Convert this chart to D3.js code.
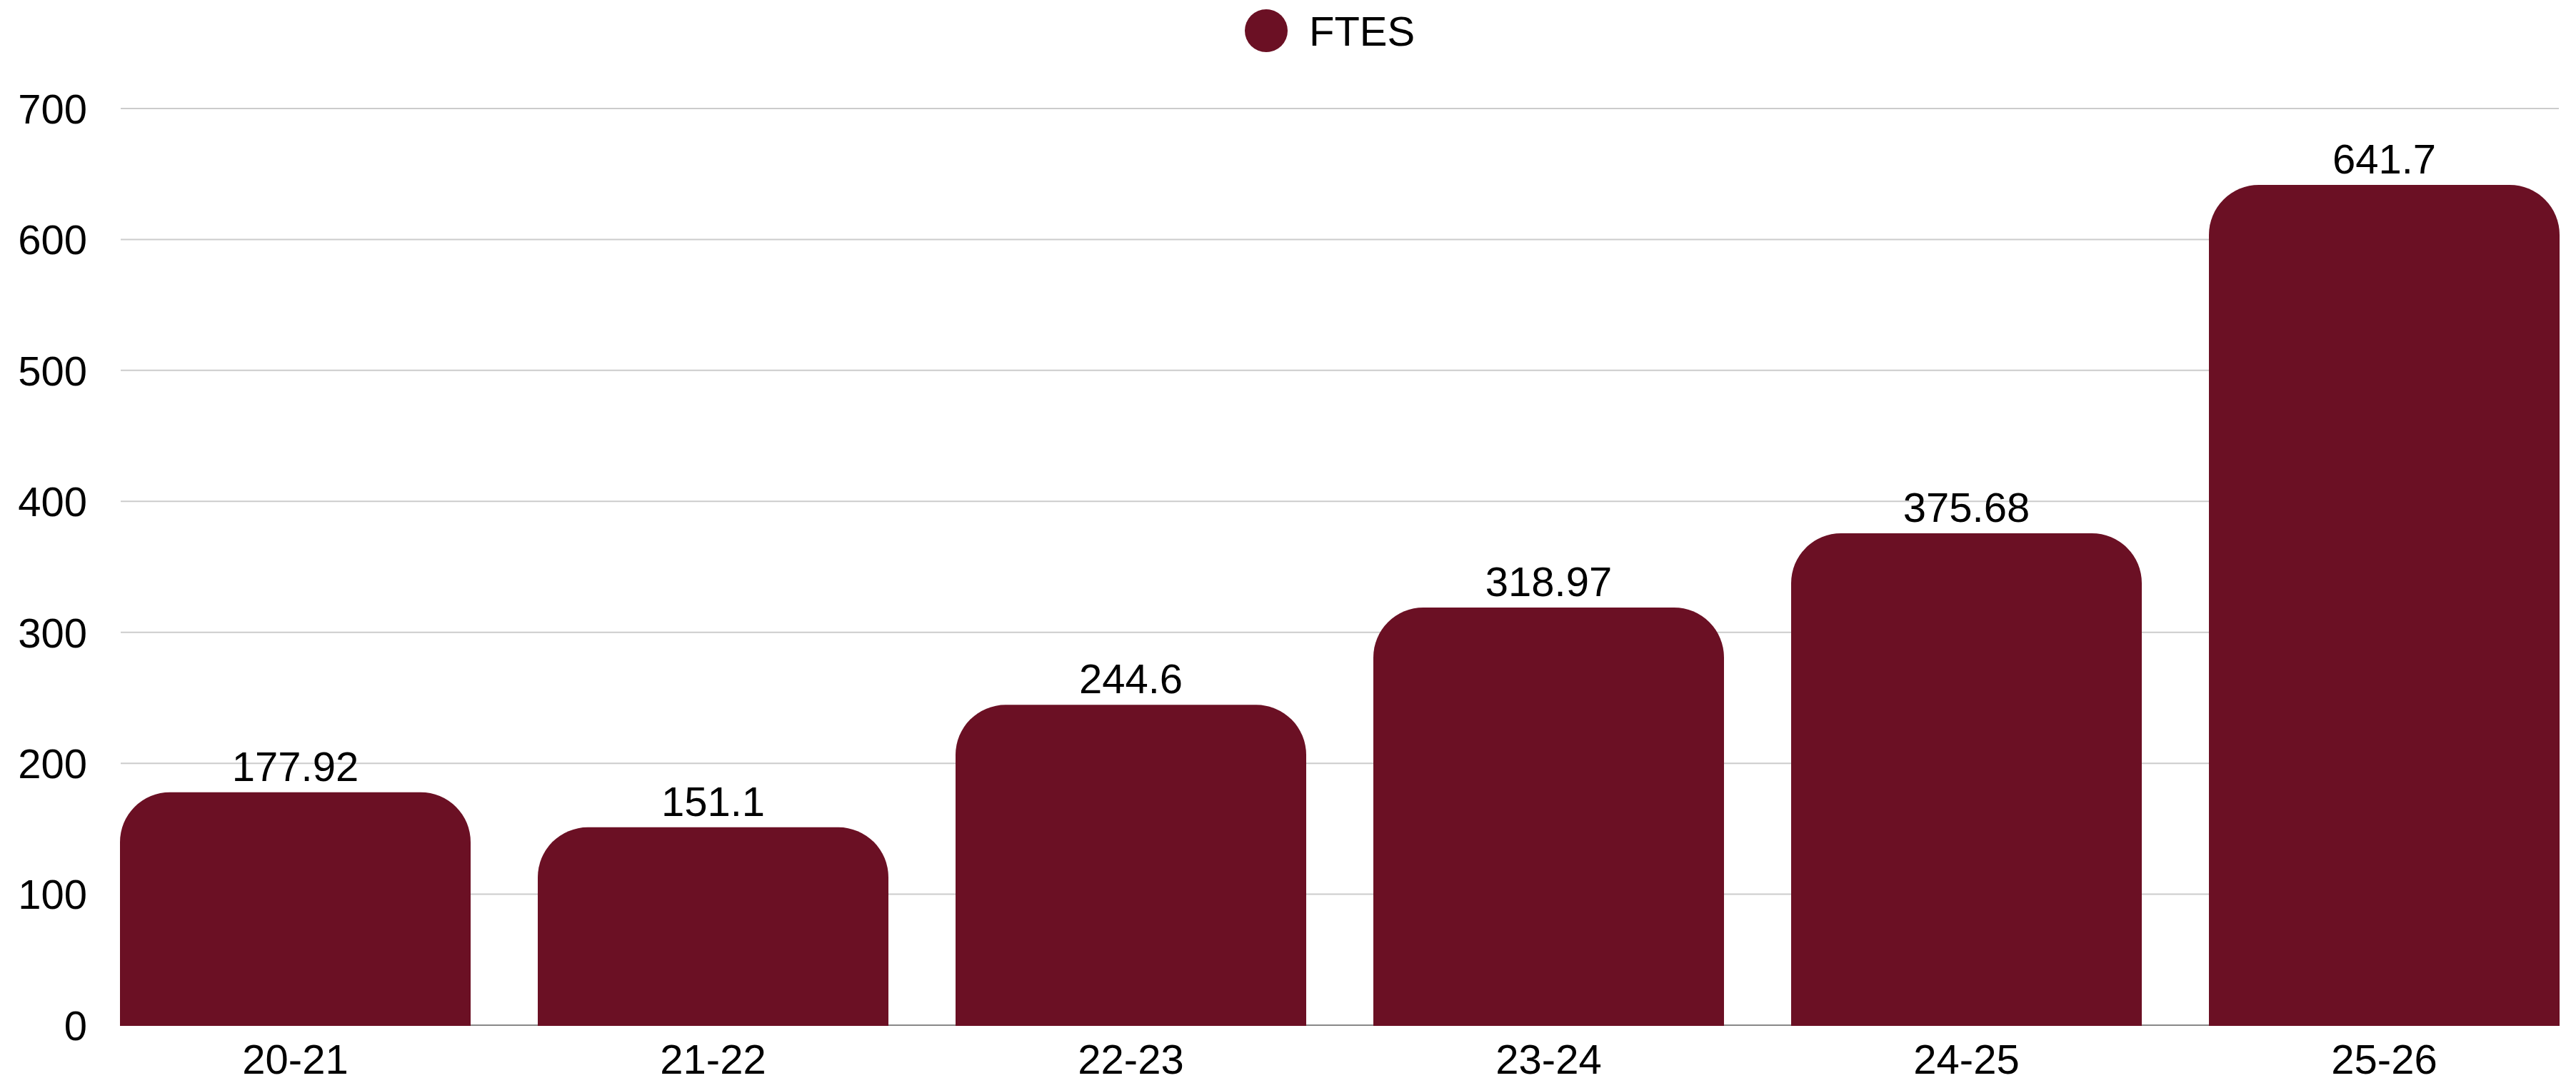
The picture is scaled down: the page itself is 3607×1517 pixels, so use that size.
<!DOCTYPE html>
<html>
<head>
<meta charset="utf-8">
<script src="https://cdn.jsdelivr.net/npm/d3@7"></script>
<style>
  html, body { margin: 0; padding: 0; background: #ffffff; }
  svg { display: block; }
  text { font-family: "Liberation Sans", Arial, sans-serif; fill: #000; }
</style>
</head>
<body>
<script>
const categories = ["20-21", "21-22", "22-23", "23-24", "24-25", "25-26"];
const values = [177.92, 151.1, 244.6, 318.97, 375.68, 641.7];
const valueLabels = ["177.92", "151.1", "244.6", "318.97", "375.68", "641.7"];
const yTicks = [0, 100, 200, 300, 400, 500, 600, 700];
const seriesName = "FTES";

const W = 3607, H = 1517;
const color = "#6b1024";
const fontSize = 58;

const svg = d3.select("body").append("svg").attr("width", W).attr("height", H);

const x = d3.scaleBand().domain(categories).range([168, 3584]).paddingInner(0.1607).paddingOuter(0);
const y = d3.scaleLinear().domain([0, 700]).range([1436, 152]);

// gridlines
svg.append("g").selectAll("line").data(yTicks.filter(d => d !== 0)).join("line")
  .attr("x1", 169).attr("x2", 3583)
  .attr("y1", d => y(d)).attr("y2", d => y(d))
  .attr("stroke", "#cccccc").attr("stroke-width", 2);

// baseline
svg.append("line").attr("x1", 169).attr("x2", 3583)
  .attr("y1", y(0)).attr("y2", y(0)).attr("stroke", "#888888").attr("stroke-width", 2);

// y tick labels
svg.append("g").selectAll("text").data(yTicks).join("text")
  .attr("x", 122).attr("y", d => y(d)).attr("dy", "0.36em")
  .attr("text-anchor", "end").attr("font-size", fontSize)
  .text(d => d);

// bars with rounded top corners
const r = 70;
function barPathArc(x0, w, yTop, yBot) {
  const rr = Math.min(r, w / 2, (yBot - yTop));
  return `M${x0},${yBot} L${x0},${yTop + rr} A${rr},${rr} 0 0 1 ${x0 + rr},${yTop} L${x0 + w - rr},${yTop} A${rr},${rr} 0 0 1 ${x0 + w},${yTop + rr} L${x0 + w},${yBot} Z`;
}
svg.append("g").selectAll("path").data(values).join("path")
  .attr("d", (d, i) => barPathArc(x(categories[i]), x.bandwidth(), y(d), y(0) + 1))
  .attr("fill", color);

// value labels
svg.append("g").selectAll("text").data(values).join("text")
  .attr("x", (d, i) => x(categories[i]) + x.bandwidth() / 2)
  .attr("y", d => y(d) - 16)
  .attr("text-anchor", "middle").attr("font-size", fontSize)
  .text((d, i) => valueLabels[i]);

// x axis labels
svg.append("g").selectAll("text").data(categories).join("text")
  .attr("x", d => x(d) + x.bandwidth() / 2)
  .attr("y", 1504)
  .attr("text-anchor", "middle").attr("font-size", fontSize)
  .text(d => d);

// legend
const lg = svg.append("g");
lg.append("circle").attr("cx", 1773).attr("cy", 43).attr("r", 30).attr("fill", color);
lg.append("text").attr("x", 1833).attr("y", 64).attr("font-size", fontSize).text(seriesName);
</script>
</body>
</html>
